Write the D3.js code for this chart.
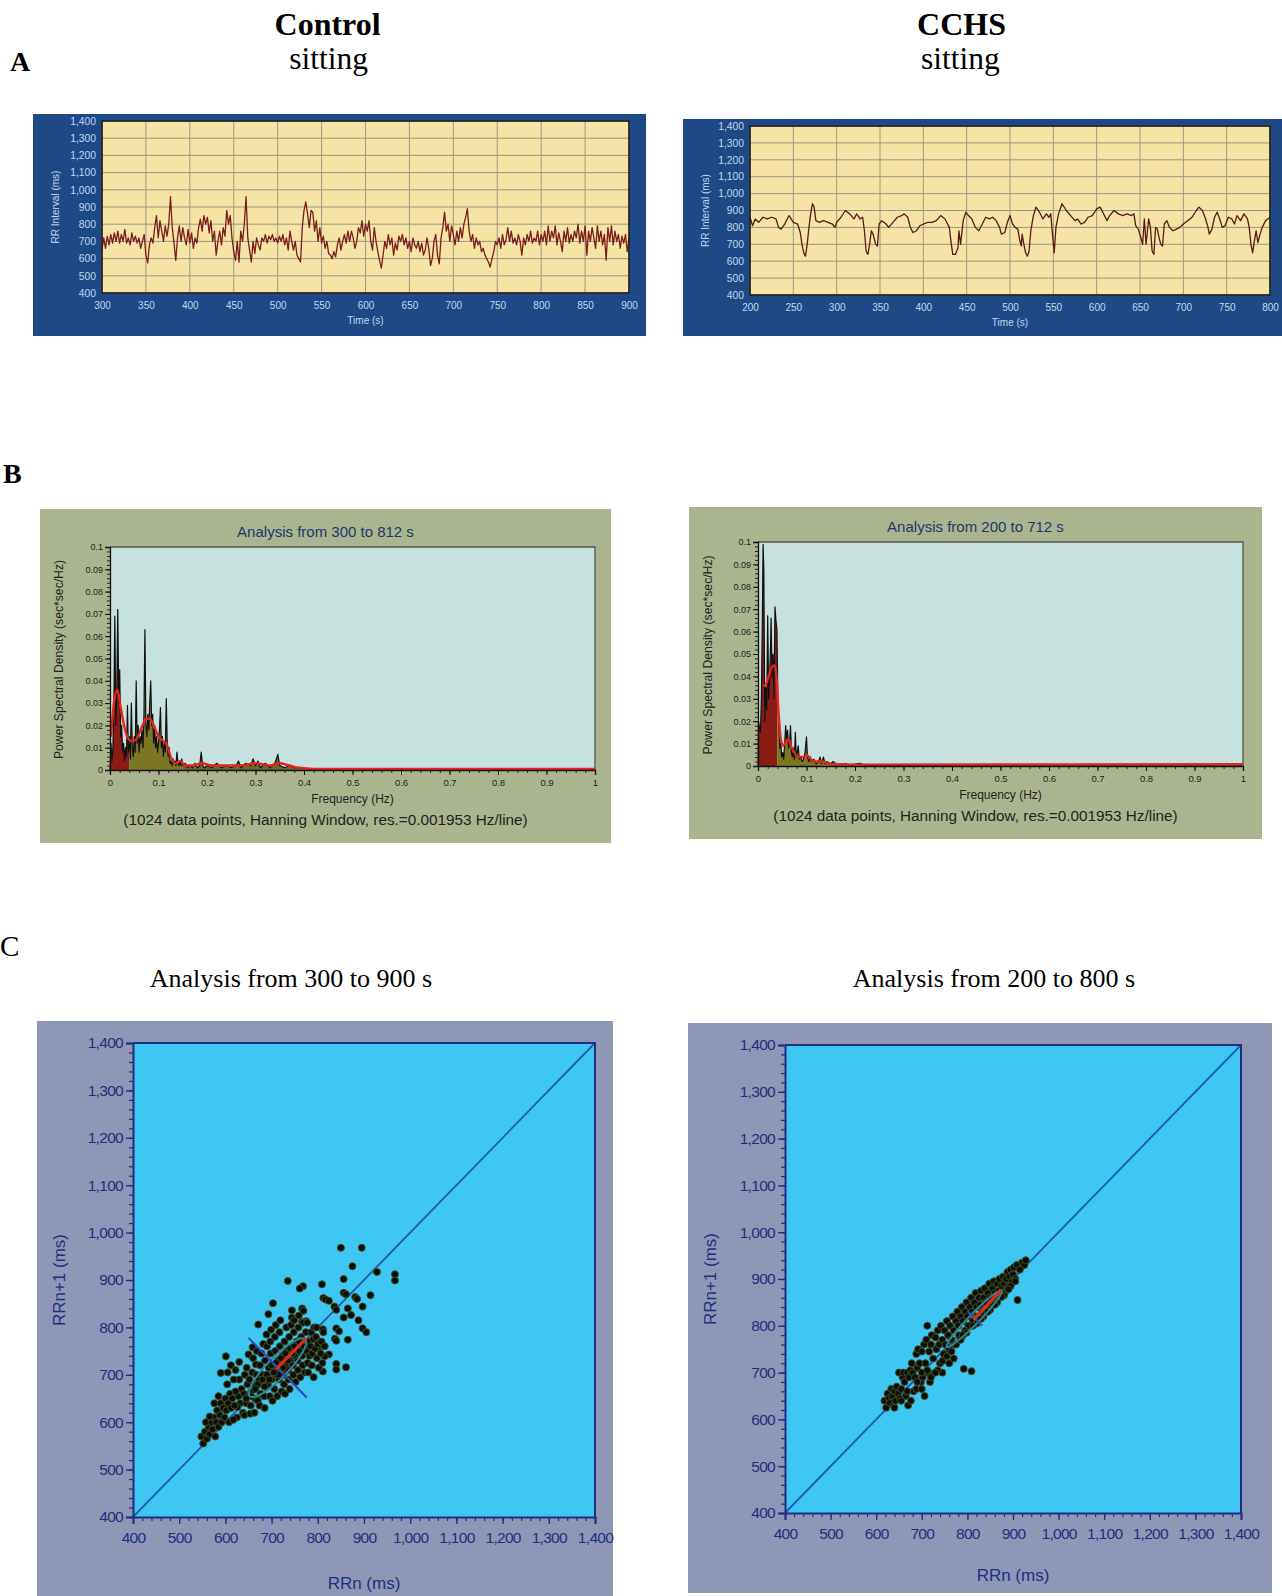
<!DOCTYPE html>
<html><head><meta charset="utf-8">
<script src="https://cdn.jsdelivr.net/npm/d3@7"></script>
<style>body{margin:0;background:#fff}svg{display:block}</style>
</head><body>
<svg id="fig" width="1282" height="1596"></svg>
<script>
// ===================== DATA =====================
// Panel A: RR interval tachograms [time (s), RR (ms)]
const controlRR = [
[300,650],[302,720],[304,660],[306,730],[308,680],[310,740],[312,690],[314,750],[316,700],[318,760],
[320,690],[322,740],[324,700],[326,770],[328,690],[330,720],[332,680],[334,750],[336,700],[338,730],
[340,690],[342,720],[344,660],[346,700],[348,740],[350,620],[352,575],[354,680],[356,720],[358,690],
[360,780],[362,850],[364,720],[366,820],[368,760],[370,700],[372,790],[374,730],[376,800],[378,960],
[380,780],[382,690],[384,590],[386,720],[388,790],[390,700],[392,780],[394,720],[396,680],[398,770],
[400,690],[402,750],[404,660],[406,720],[408,690],[410,780],[412,830],[414,760],[416,850],[418,800],
[420,840],[422,750],[424,820],[426,700],[428,760],[430,620],[432,700],[434,760],[436,680],[438,780],
[440,730],[442,880],[444,800],[446,850],[448,720],[450,640],[452,590],[454,700],[456,580],[458,760],
[460,700],[462,800],[464,960],[466,720],[468,650],[470,580],[472,700],[474,630],[476,720],[478,680],
[480,650],[482,720],[484,700],[486,740],[488,690],[490,730],[492,710],[494,740],[496,700],[498,720],
[500,690],[502,730],[504,700],[506,740],[508,680],[510,720],[512,650],[514,760],[516,700],[518,650],
[520,700],[522,620],[524,600],[526,580],[528,780],[530,880],[532,930],[534,860],[536,780],[538,880],
[540,870],[542,760],[544,820],[546,700],[548,780],[550,690],[552,730],[554,660],[556,700],[558,630],
[560,620],[562,600],[564,640],[566,610],[568,680],[570,720],[572,650],[574,700],[576,740],[578,690],
[580,760],[582,700],[584,760],[586,720],[588,660],[590,700],[592,780],[594,750],[596,820],[598,730],
[600,800],[602,760],[604,820],[606,700],[608,650],[610,780],[612,700],[614,640],[616,590],[618,545],
[620,620],[622,700],[624,660],[626,740],[628,680],[630,720],[632,620],[634,690],[636,650],[638,730],
[640,700],[642,740],[644,680],[646,720],[648,660],[650,700],[652,640],[654,720],[656,680],[658,660],
[660,700],[662,640],[664,690],[666,620],[668,650],[670,720],[672,660],[674,560],[676,600],[678,700],
[680,740],[682,620],[684,570],[686,720],[688,780],[690,870],[692,760],[694,800],[696,700],[698,790],
[700,740],[702,680],[704,760],[706,700],[708,780],[710,720],[712,800],[714,840],[716,890],[718,760],
[720,700],[722,740],[724,660],[726,720],[728,680],[730,700],[732,640],[734,660],[736,620],[738,600],
[740,580],[742,550],[744,600],[746,640],[748,700],[750,680],[752,720],[754,660],[756,740],[758,680],
[760,710],[762,780],[764,700],[766,760],[768,690],[770,720],[772,680],[774,740],[776,700],[778,620],
[780,720],[782,680],[784,740],[786,700],[788,760],[790,690],[792,720],[794,700],[796,760],[798,680],
[800,740],[802,700],[804,760],[806,680],[808,790],[810,700],[812,760],[814,720],[816,790],[818,680],
[820,750],[822,700],[824,640],[826,760],[828,700],[830,780],[832,690],[834,740],[836,700],[838,760],
[840,720],[842,800],[844,690],[846,760],[848,700],[850,790],[852,620],[854,760],[856,700],[858,780],
[860,720],[862,660],[864,790],[866,700],[868,760],[870,680],[872,740],[874,590],[876,780],[878,700],
[880,790],[882,680],[884,760],[886,700],[888,740],[890,660],[892,730],[894,690],[896,740],[898,640],
[900,720]];
const cchsRR = [
[200,860],[203,810],[206,850],[210,830],[215,860],[220,850],[225,860],[230,850],[233,800],[236,790],
[240,820],[245,870],[250,830],[255,820],[258,770],[260,700],[262,650],[264,630],[266,700],[268,800],
[270,880],[272,940],[274,920],[276,840],[280,830],[285,840],[290,830],[295,820],[298,800],[300,830],
[305,860],[310,900],[315,880],[320,850],[323,880],[327,850],[330,860],[332,780],[334,660],[336,640],
[338,700],[340,780],[342,760],[345,700],[347,690],[349,820],[352,840],[357,820],[360,800],[365,830],
[370,860],[375,870],[378,880],[382,860],[385,800],[388,770],[392,780],[396,810],[400,820],[405,830],
[410,830],[415,840],[420,870],[425,850],[430,800],[432,710],[434,640],[437,640],[440,680],[441,780],
[443,700],[446,840],[449,890],[452,870],[456,850],[460,800],[464,780],[468,820],[472,860],[476,850],
[480,860],[484,840],[488,800],[490,760],[494,770],[497,830],[500,870],[503,820],[506,800],[509,790],
[511,730],[513,690],[514,760],[516,700],[518,650],[520,630],[522,660],[524,780],[527,870],[530,920],
[534,890],[538,850],[542,880],[545,860],[547,880],[549,760],[551,650],[553,800],[556,880],[560,940],
[565,900],[570,870],[575,840],[578,850],[582,820],[586,830],[590,860],[595,870],[600,910],[604,920],
[608,880],[612,840],[615,870],[620,900],[625,880],[630,870],[635,880],[640,870],[643,880],[645,810],
[648,790],[651,740],[653,700],[655,850],[657,700],[660,850],[662,800],[664,660],[666,640],[668,800],
[670,790],[672,740],[674,700],[676,690],[678,820],[681,840],[684,800],[688,780],[692,790],[696,800],
[700,820],[705,840],[710,860],[715,900],[718,920],[722,900],[725,860],[728,810],[730,760],[733,790],
[736,860],[739,890],[742,850],[745,800],[748,810],[752,860],[756,850],[759,820],[762,870],[766,840],
[770,880],[774,850],[776,800],[778,700],[780,650],[782,720],[784,780],[786,710],[788,750],[791,800],
[795,840],[800,860]];
const rrYTicks = [400,500,600,700,800,900,1000,1100,1200,1300,1400];
const controlTimeTicks = [300,350,400,450,500,550,600,650,700,750,800,850,900];
const cchsTimeTicks = [200,250,300,350,400,450,500,550,600,650,700,750,800];

// Panel B: power spectral density [frequency (Hz), PSD (sec*sec/Hz)]
const controlPSD = [
[0,0],[0.002,0.012],[0.004,0.004],[0.006,0.01],[0.008,0.03],[0.010,0.069],[0.012,0.02],[0.014,0.035],[0.016,0.072],[0.018,0.03],
[0.020,0.045],[0.022,0.015],[0.024,0.02],[0.026,0.008],[0.028,0.012],[0.030,0.004],[0.032,0.01],[0.034,0.006],[0.036,0.029],[0.038,0.008],
[0.040,0.015],[0.042,0.005],[0.044,0.03],[0.046,0.01],[0.048,0.006],[0.050,0.015],[0.052,0.008],[0.054,0.04],[0.056,0.012],[0.058,0.02],
[0.060,0.008],[0.062,0.015],[0.064,0.012],[0.066,0.018],[0.068,0.01],[0.070,0.025],[0.072,0.063],[0.074,0.02],[0.076,0.015],[0.078,0.025],
[0.080,0.018],[0.082,0.03],[0.084,0.04],[0.086,0.02],[0.088,0.025],[0.090,0.012],[0.092,0.02],[0.094,0.01],[0.096,0.015],[0.098,0.008],
[0.100,0.012],[0.102,0.018],[0.104,0.028],[0.106,0.01],[0.108,0.015],[0.110,0.006],[0.112,0.012],[0.114,0.008],[0.116,0.032],[0.118,0.012],
[0.120,0.006],[0.122,0.01],[0.124,0.003],[0.126,0.004],[0.128,0.002],[0.130,0.005],[0.132,0.003],[0.134,0.004],[0.136,0.002],[0.138,0.008],
[0.140,0.003],[0.142,0.002],[0.144,0.004],[0.146,0.002],[0.148,0.005],[0.150,0.002],[0.155,0.003],[0.160,0.001],[0.165,0.002],[0.170,0.001],
[0.175,0.003],[0.180,0.001],[0.185,0.002],[0.188,0.008],[0.191,0.002],[0.195,0.001],[0.200,0.002],[0.210,0.001],[0.220,0.003],[0.230,0.001],
[0.240,0.002],[0.250,0.001],[0.260,0.002],[0.265,0.004],[0.270,0.001],[0.280,0.003],[0.290,0.002],[0.295,0.005],[0.300,0.002],[0.305,0.004],
[0.310,0.001],[0.320,0.003],[0.330,0.001],[0.340,0.003],[0.346,0.007],[0.350,0.002],[0.360,0.001],[0.370,0.002],[0.380,0.001],[0.390,0.001],
[0.400,0.0005],[0.450,0.0002],[0.500,0.0002],[0.550,0.0005],[0.600,0.0002],[0.700,0.0001],[0.800,0.0001],[0.900,0.0001],[1.000,0.0001]];
const controlPSDSmooth = [
[0.002,0.015],[0.008,0.03],[0.015,0.036],[0.022,0.028],[0.030,0.019],[0.038,0.014],[0.045,0.013],[0.055,0.014],[0.065,0.019],[0.075,0.023],
[0.082,0.023],[0.090,0.02],[0.100,0.015],[0.110,0.013],[0.118,0.011],[0.125,0.006],[0.135,0.003],[0.145,0.004],[0.155,0.002],[0.170,0.002],
[0.190,0.003],[0.210,0.002],[0.240,0.002],[0.270,0.002],[0.300,0.003],[0.330,0.002],[0.350,0.003],[0.370,0.002],[0.390,0.001],[0.420,0.0005],
[1.000,0.0005]];
const cchsPSD = [
[0,0],[0.001,0.02],[0.003,0.017],[0.005,0.015],[0.007,0.03],[0.009,0.066],[0.0105,0.099],[0.012,0.088],[0.014,0.02],[0.016,0.035],
[0.018,0.025],[0.020,0.067],[0.022,0.03],[0.024,0.04],[0.026,0.055],[0.027,0.066],[0.029,0.04],[0.031,0.05],[0.033,0.03],[0.035,0.071],
[0.037,0.065],[0.039,0.061],[0.041,0.03],[0.043,0.02],[0.045,0.008],[0.047,0.01],[0.049,0.004],[0.051,0.006],[0.053,0.003],[0.055,0.01],
[0.057,0.018],[0.059,0.012],[0.061,0.016],[0.063,0.008],[0.065,0.01],[0.067,0.018],[0.069,0.006],[0.071,0.004],[0.073,0.008],[0.075,0.003],
[0.077,0.015],[0.079,0.004],[0.081,0.006],[0.083,0.009],[0.085,0.003],[0.088,0.004],[0.091,0.002],[0.094,0.003],[0.097,0.006],[0.100,0.013],
[0.102,0.004],[0.105,0.002],[0.108,0.004],[0.111,0.002],[0.115,0.003],[0.120,0.001],[0.125,0.002],[0.128,0.004],[0.131,0.001],[0.135,0.004],
[0.138,0.001],[0.142,0.002],[0.150,0.001],[0.155,0.002],[0.160,0.001],[0.170,0.0008],[0.180,0.001],[0.190,0.0005],[0.200,0.0008],[0.210,0.0012],
[0.220,0.0004],[0.250,0.0003],[0.300,0.0002],[0.400,0.0001],[0.500,0.0001],[0.600,0.0001],[0.700,0.0001],[0.800,0.0001],[0.900,0.0001],[1.000,0.0001]];
const cchsPSDSmooth = [
[0.010,0.036],[0.015,0.036],[0.022,0.04],[0.028,0.044],[0.034,0.045],[0.038,0.04],[0.042,0.025],[0.047,0.012],[0.052,0.009],[0.058,0.011],
[0.063,0.012],[0.068,0.009],[0.075,0.006],[0.085,0.004],[0.095,0.004],[0.100,0.005],[0.105,0.004],[0.115,0.002],[0.130,0.002],[0.150,0.001],
[0.200,0.0006],[1.000,0.0008]];
const psdXTicks = [0,0.1,0.2,0.3,0.4,0.5,0.6,0.7,0.8,0.9,1];
const psdYTicks = [0,0.01,0.02,0.03,0.04,0.05,0.06,0.07,0.08,0.09,0.1];
const bandEdges = [0, 0.04, 0.15, 0.4];          // VLF | LF | HF
const bandColors = ["#8a1c14", "#7a7622", "#66682e"];

// Panel C: Poincaré plots [RRn (ms), RRn+1 (ms)]
const controlPoincare = [
// outliers
[850,968],[895,968],[875,929],[928,917],[967,912],[967,899],[856,902],[735,898],[768,887],[761,882],
[809,891],[856,873],[861,870],[881,864],[885,860],[914,868],[897,844],[812,862],[817,859],[824,856],
[836,844],[840,837],[865,840],[856,821],[872,826],[888,815],[897,798],[905,790],[840,798],[846,792],
[837,776],[840,772],[865,774],[840,723],[840,711],[861,716],[703,851],[744,836],[744,821],[766,840],
[766,812],[775,813],[811,796],[803,758],[811,762],[824,743],[815,739],[811,707],[791,695],[693,828],
[671,806],[601,739],[590,704],[630,727],[650,743],[659,758],
// core
[628,655],[632,640],[635,670],[630,690],[638,620],[626,632],
[640,660],[642,700],[645,640],[648,680],[641,615],[646,715],[650,655],
[652,690],[655,635],[658,705],[656,665],[660,735],[654,618],[662,680],
[664,650],[667,700],[666,722],[670,645],[668,750],[672,690],[663,620],
[675,720],[676,660],[678,745],[680,700],[674,635],[682,765],[679,680],
[684,655],[686,730],[688,700],[690,760],[685,630],[692,680],[689,785],
[694,715],[696,655],[698,745],[700,690],[697,770],[702,645],[699,795],
[704,720],[706,670],[708,750],[710,700],[707,780],[712,655],[709,805],
[714,730],[716,690],[718,760],[720,710],[717,790],[722,665],[719,815],
[724,740],[726,700],[728,770],[730,720],[727,680],[732,800],[729,660],
[734,750],[736,710],[738,780],[740,730],[737,690],[742,805],[739,670],
[744,760],[746,720],[748,790],[750,740],[747,700],[752,685],[749,815],
[754,770],[756,730],[758,800],[760,750],[757,710],[762,695],[759,825],
[764,780],[766,740],[768,810],[770,760],[767,720],[772,705],[769,835],
[774,790],[776,750],[778,725],[780,770],[777,810],[782,740],[779,705],
[784,760],[786,790],[788,745],[790,775],[787,720],[792,800],
[794,755],[796,780],[798,735],[800,765],[802,715],[797,800],
[806,745],[808,770],[810,725],[812,790],[815,760],
[700,720],[710,725],[720,735],[730,745],[740,755],[690,700],[680,690],[670,680],[715,700],[725,715],
[735,730],[745,745],[705,705],[695,690],[685,675],[750,760],[760,770],[665,670],[655,655],[645,650],
// lower tail
[548,570],[552,555],[556,580],[560,565],[564,590],[558,600],[566,575],[570,600],[572,585],[575,610],
[578,570],[580,600],[582,625],[585,590],[588,615],[590,640],[592,600],[595,630],[598,610],[600,650],
[602,625],[604,680],[606,640],[608,600],[610,660],[612,630],[615,650],[618,690],[620,635],[622,665],
[625,610],[585,655],[605,705],[612,720],[576,640],[566,612],[622,710],[617,605]];
const cchsPoincare = [
[618,640],[622,625],[625,655],[628,645],[630,635],[633,665],[635,650],[638,630],[640,660],[642,640],
[645,670],[648,655],[650,700],[652,645],[655,665],[658,690],[660,700],[662,680],[665,650],[668,700],
[670,630],[672,690],[675,705],[678,720],[680,700],[682,660],[685,690],[688,740],[690,710],[692,750],
[695,720],[698,680],[700,745],[702,690],[705,760],[706,650],[708,720],[710,770],[712,800],[714,700],
[716,745],[718,680],[720,760],[722,780],[725,730],[728,700],[730,775],[732,750],[735,790],[738,760],
[740,720],[742,800],[745,770],[748,740],[750,790],[752,760],[755,810],[758,780],[760,750],[762,800],
[765,770],[768,820],[770,790],[772,760],[775,810],[778,830],[780,800],[782,780],[785,820],[788,840],
[790,810],[792,708],[795,830],[798,850],[800,820],[802,800],[805,840],[808,860],[809,703],[810,830],
[812,810],[815,850],[818,870],[820,840],[822,820],[825,860],[828,845],[830,875],[832,830],[835,860],
[838,880],[840,850],[842,835],[845,870],[848,890],[850,860],[852,845],[855,880],[858,895],[860,870],
[862,855],[865,890],[868,875],[870,900],[872,860],[875,885],[878,905],[880,890],[882,870],[885,900],
[888,915],[890,885],[892,905],[895,920],[898,895],[900,910],[902,925],[905,900],[910,855],[908,930],
[915,920],[920,935],[925,930],[928,940],[760,720],[745,700],[735,705],[770,730],[688,665],[676,640],
[700,665],[720,690],[730,700],[745,725],[755,735],[765,745],[775,760],[785,770],[795,790],[690,680],
[700,700],[712,705],[820,805],[835,820],[850,835],[865,850],[880,865],[895,885],[845,830],[860,845],
[875,862],[890,878],[905,895],[830,815],[812,800],[798,785],[790,780],[640,625],[655,640],[668,660]];
const poincareTicks = [400,500,600,700,800,900,1000,1100,1200,1300,1400];
// SD1/SD2 ellipse: centre (ms), SD2 half-length, SD1 half-width (ms)
const controlEllipse = [713, 715, 85, 22];
const cchsEllipse = [815, 815, 85, 11];
const controlMinorAxis = [[650,778],[776,652]];
const cchsMinorAxis = [[800,832],[832,800]];
const controlMajorArrow = [[713,715],[773,775]];
const cchsMajorArrow = [[815,815],[872,874]];

// ===================== DRAWING =====================
const svg = d3.select("#fig");
const SANS = "'Liberation Sans', Arial, sans-serif";
const SERIF = "'Liberation Serif', 'Times New Roman', serif";

function text(x, y, s, o = {}) {
  const t = svg.append("text").attr("x", x).attr("y", y).text(s)
    .attr("text-anchor", o.anchor || "middle")
    .attr("fill", o.fill || "#000")
    .style("font-family", o.family || SERIF)
    .style("font-size", (o.size || 14) + "px")
    .style("font-weight", o.weight || "normal");
  if (o.rotate) t.attr("transform", `rotate(-90,${x},${y})`);
  if (o.ls) t.style("letter-spacing", o.ls);
  return t;
}

// headings
text(327.6, 35, "Control", {size: 32, weight: "bold"});
text(328.6, 69, "sitting", {size: 31.5});
text(961.5, 35, "CCHS", {size: 32, weight: "bold"});
text(960.5, 69, "sitting", {size: 31.5});
text(10, 71, "A", {size: 28, weight: "bold", anchor: "start"});
text(3, 483, "B", {size: 28, weight: "bold", anchor: "start"});
text(0, 956, "C", {size: 29, anchor: "start"});
text(291, 987, "Analysis from 300 to 900 s", {size: 26});
text(994, 987, "Analysis from 200 to 800 s", {size: 26});

// ---------- Panel A ----------
function drawRR(box, p, series, xTicks, lineColor) {
  const g = svg.append("g");
  g.append("rect").attr("x", box.x).attr("y", box.y).attr("width", box.w).attr("height", box.h).attr("fill", "#1d4a86");
  const x = d3.scaleLinear().domain(d3.extent(xTicks)).range([p.x0, p.x1]);
  const y = d3.scaleLinear().domain(d3.extent(rrYTicks)).range([p.y1, p.y0]);
  g.append("rect").attr("x", p.x0).attr("y", p.y0).attr("width", p.x1 - p.x0).attr("height", p.y1 - p.y0).attr("fill", "#f5e4a3");
  g.append("g").selectAll("line").data(xTicks).join("line")
    .attr("x1", d => x(d)).attr("x2", d => x(d)).attr("y1", p.y0).attr("y2", p.y1)
    .attr("stroke", "#9c9884").attr("stroke-width", 1);
  g.append("g").selectAll("line").data(rrYTicks).join("line")
    .attr("x1", p.x0).attr("x2", p.x1).attr("y1", d => y(d)).attr("y2", d => y(d))
    .attr("stroke", "#9c9884").attr("stroke-width", 1);
  g.append("path").datum(series)
    .attr("d", d3.line().x(d => x(d[0])).y(d => y(d[1])))
    .attr("fill", "none").attr("stroke", lineColor).attr("stroke-width", 1.3).attr("stroke-linejoin", "round");
  g.append("rect").attr("x", p.x0).attr("y", p.y0).attr("width", p.x1 - p.x0).attr("height", p.y1 - p.y0)
    .attr("fill", "none").attr("stroke", "#1b1b1b").attr("stroke-width", 1.6);
  const ay = g.append("g").attr("transform", `translate(${p.x0},0)`)
    .call(d3.axisLeft(y).tickValues(rrYTicks).tickFormat(d3.format(",")).tickSize(0).tickPadding(6));
  ay.select(".domain").remove();
  ay.selectAll("text").attr("fill", "#c2d6ef").style("font", `10.3px ${SANS}`);
  const ax = g.append("g").attr("transform", `translate(0,${p.y1})`)
    .call(d3.axisBottom(x).tickValues(xTicks).tickSize(0).tickPadding(9));
  ax.select(".domain").remove();
  ax.selectAll("text").attr("fill", "#c2d6ef").style("font", `10px ${SANS}`);
  text((p.x0 + p.x1) / 2, p.y1 + 31, "Time (s)", {family: SANS, size: 10, fill: "#c2d6ef"});
  text(box.x + 26, (p.y0 + p.y1) / 2, "RR Interval (ms)", {family: SANS, size: 10, fill: "#c2d6ef", rotate: true});
}
drawRR({x: 33, y: 114, w: 613, h: 222}, {x0: 102, x1: 629, y0: 121, y1: 293}, controlRR, controlTimeTicks, "#7a1d1d");
drawRR({x: 683, y: 119, w: 599, h: 217}, {x0: 750, x1: 1270, y0: 126, y1: 295}, cchsRR, cchsTimeTicks, "#5a1818");

// ---------- Panel B ----------
let clipId = 0;
function drawPSD(box, p, psd, smooth, title) {
  const g = svg.append("g");
  g.append("rect").attr("x", box.x).attr("y", box.y).attr("width", box.w).attr("height", box.h).attr("fill", "#aab58f");
  const x = d3.scaleLinear().domain(d3.extent(psdXTicks)).range([p.x0, p.x1]);
  const y = d3.scaleLinear().domain(d3.extent(psdYTicks)).range([p.y1, p.y0]);
  g.append("rect").attr("x", p.x0).attr("y", p.y0).attr("width", p.x1 - p.x0).attr("height", p.y1 - p.y0).attr("fill", "#c7e2de");
  const area = d3.area().x(d => x(d[0])).y0(y(0)).y1(d => y(d[1]));
  for (let i = 0; i < bandEdges.length - 1; i++) {
    const id = "band" + (clipId++);
    g.append("clipPath").attr("id", id).append("rect")
      .attr("x", x(bandEdges[i])).attr("y", p.y0).attr("width", x(bandEdges[i + 1]) - x(bandEdges[i])).attr("height", p.y1 - p.y0);
    g.append("path").datum(psd).attr("d", area).attr("fill", bandColors[i]).attr("clip-path", `url(#${id})`);
  }
  g.append("path").datum(psd).attr("d", d3.line().x(d => x(d[0])).y(d => y(d[1])))
    .attr("fill", "none").attr("stroke", "#111").attr("stroke-width", 1.2).attr("stroke-linejoin", "round");
  g.append("path").datum(smooth).attr("d", d3.line().curve(d3.curveMonotoneX).x(d => x(d[0])).y(d => y(d[1])))
    .attr("fill", "none").attr("stroke", "#e3261c").attr("stroke-width", 2.4);
  g.append("path").attr("d", `M${p.x0},${p.y0}H${p.x1}V${p.y1}`).attr("fill", "none").attr("stroke", "#555").attr("stroke-width", 1.3);
  const my = g.append("g").attr("transform", `translate(${p.x0},0)`)
    .call(d3.axisLeft(y).tickValues(d3.range(0, 0.1001, 0.002)).tickFormat("").tickSize(3));
  my.select(".domain").remove(); my.selectAll("line").attr("stroke", "#222");
  const mx = g.append("g").attr("transform", `translate(0,${p.y1})`)
    .call(d3.axisBottom(x).tickValues(d3.range(0, 1.0001, 0.02)).tickFormat("").tickSize(3));
  mx.select(".domain").remove(); mx.selectAll("line").attr("stroke", "#222");
  const ay = g.append("g").attr("transform", `translate(${p.x0},0)`)
    .call(d3.axisLeft(y).tickValues(psdYTicks).tickFormat(d3.format("~g")).tickSize(5).tickPadding(2));
  ay.select(".domain").attr("stroke", "#111").attr("stroke-width", 1.3);
  ay.selectAll("line").attr("stroke", "#111");
  ay.selectAll("text").attr("fill", "#222").style("font", `9px ${SANS}`);
  const ax = g.append("g").attr("transform", `translate(0,${p.y1})`)
    .call(d3.axisBottom(x).tickValues(psdXTicks).tickFormat(d3.format("~g")).tickSize(5).tickPadding(4));
  ax.select(".domain").attr("stroke", "#111").attr("stroke-width", 1.3);
  ax.selectAll("line").attr("stroke", "#111");
  ax.selectAll("text").attr("fill", "#222").style("font", `9.5px ${SANS}`);
  const bx = box.x + box.w / 2;
  text(bx, p.y0 - 10, title, {family: SANS, size: 15, fill: "#23356f"});
  text((p.x0 + p.x1) / 2, p.y1 + 33, "Frequency (Hz)", {family: SANS, size: 12, fill: "#222"});
  text(bx, p.y1 + 55, "(1024 data points, Hanning Window, res.=0.001953 Hz/line)", {family: SANS, size: 15.3, fill: "#222"});
  text(box.x + 23, (p.y0 + p.y1) / 2 + 1, "Power Spectral Density (sec*sec/Hz)", {family: SANS, size: 12.2, fill: "#222", rotate: true});
}
drawPSD({x: 40, y: 509, w: 571, h: 334}, {x0: 110, x1: 595, y0: 547, y1: 770}, controlPSD, controlPSDSmooth, "Analysis from 300 to 812 s");
drawPSD({x: 689, y: 507, w: 573, h: 332}, {x0: 758, x1: 1243, y0: 542, y1: 766}, cchsPSD, cchsPSDSmooth, "Analysis from 200 to 712 s");

// ---------- Panel C ----------
function drawPoincare(box, p, pts, ell, minorAxis, major, xLabelY) {
  const g = svg.append("g");
  const NAVY = "#1f2f80";
  g.append("rect").attr("x", box.x).attr("y", box.y).attr("width", box.w).attr("height", box.h).attr("fill", "#8e98b6");
  const x = d3.scaleLinear().domain(d3.extent(poincareTicks)).range([p.x0, p.x1]);
  const y = d3.scaleLinear().domain(d3.extent(poincareTicks)).range([p.y1, p.y0]);
  g.append("rect").attr("x", p.x0).attr("y", p.y0).attr("width", p.x1 - p.x0).attr("height", p.y1 - p.y0).attr("fill", "#3ec7f2");
  const lo = poincareTicks[0], hi = poincareTicks[poincareTicks.length - 1];
  g.append("line").attr("x1", x(lo)).attr("y1", y(lo)).attr("x2", x(hi)).attr("y2", y(hi))
    .attr("stroke", "#1d5cb0").attr("stroke-width", 1.8);
  g.append("g").selectAll("circle").data(pts).join("circle")
    .attr("cx", d => x(d[0])).attr("cy", d => y(d[1])).attr("r", 3.5)
    .attr("fill", "#0e0e0c").attr("stroke", "#3f4d22").attr("stroke-width", 1);
  const [ecx, ecy, a, b] = ell;
  const c = Math.SQRT1_2;
  const ellPts = d3.range(0, 2 * Math.PI + 0.01, Math.PI / 40).map(t => {
    const u = a * Math.cos(t), v = b * Math.sin(t);
    return [ecx + c * (u - v), ecy + c * (u + v)];
  });
  g.append("path").datum(ellPts).attr("d", d3.line().x(d => x(d[0])).y(d => y(d[1])))
    .attr("fill", "none").attr("stroke", "#2d8597").attr("stroke-width", 2);
  g.append("path").datum(minorAxis).attr("d", d3.line().x(d => x(d[0])).y(d => y(d[1])))
    .attr("stroke", "#3447b4").attr("stroke-width", 2);
  g.append("path").datum(major).attr("d", d3.line().x(d => x(d[0])).y(d => y(d[1])))
    .attr("stroke", "#d8301a").attr("stroke-width", 3.2).attr("stroke-linecap", "round");
  g.append("path").attr("d", `M${p.x0},${p.y0}H${p.x1}V${p.y1}`).attr("fill", "none").attr("stroke", NAVY).attr("stroke-width", 2);
  const minor = d3.range(lo, hi + 0.1, 20);
  const my = g.append("g").attr("transform", `translate(${p.x0},0)`).call(d3.axisLeft(y).tickValues(minor).tickFormat("").tickSize(4));
  my.select(".domain").remove(); my.selectAll("line").attr("stroke", NAVY).attr("stroke-width", 1.2);
  const mx = g.append("g").attr("transform", `translate(0,${p.y1})`).call(d3.axisBottom(x).tickValues(minor).tickFormat("").tickSize(4));
  mx.select(".domain").remove(); mx.selectAll("line").attr("stroke", NAVY).attr("stroke-width", 1.2);
  const ay = g.append("g").attr("transform", `translate(${p.x0},0)`)
    .call(d3.axisLeft(y).tickValues(poincareTicks).tickFormat(d3.format(",")).tickSize(7).tickPadding(3));
  ay.select(".domain").attr("stroke", NAVY).attr("stroke-width", 2);
  ay.selectAll("line").attr("stroke", NAVY).attr("stroke-width", 1.3);
  ay.selectAll("text").attr("fill", NAVY).style("font", `15.5px ${SANS}`).style("letter-spacing", "-0.7px");
  const ax = g.append("g").attr("transform", `translate(0,${p.y1})`)
    .call(d3.axisBottom(x).tickValues(poincareTicks).tickFormat(d3.format(",")).tickSize(7).tickPadding(8));
  ax.select(".domain").attr("stroke", NAVY).attr("stroke-width", 2);
  ax.selectAll("line").attr("stroke", NAVY).attr("stroke-width", 1.3);
  ax.selectAll("text").attr("fill", NAVY).style("font", `15.5px ${SANS}`).style("letter-spacing", "-0.7px");
  text((p.x0 + p.x1) / 2, p.y1 + xLabelY, "RRn (ms)", {family: SANS, size: 17, fill: NAVY});
  text(box.x + 28, (p.y0 + p.y1) / 2, "RRn+1 (ms)", {family: SANS, size: 17, fill: NAVY, rotate: true});
}
drawPoincare({x: 37, y: 1021, w: 576, h: 575}, {x0: 133, x1: 595, y0: 1043, y1: 1517}, controlPoincare, controlEllipse, controlMinorAxis, controlMajorArrow, 72);
drawPoincare({x: 688, y: 1023, w: 584, h: 570}, {x0: 785, x1: 1241, y0: 1045, y1: 1513}, cchsPoincare, cchsEllipse, cchsMinorAxis, cchsMajorArrow, 68);
</script>
</body></html>
